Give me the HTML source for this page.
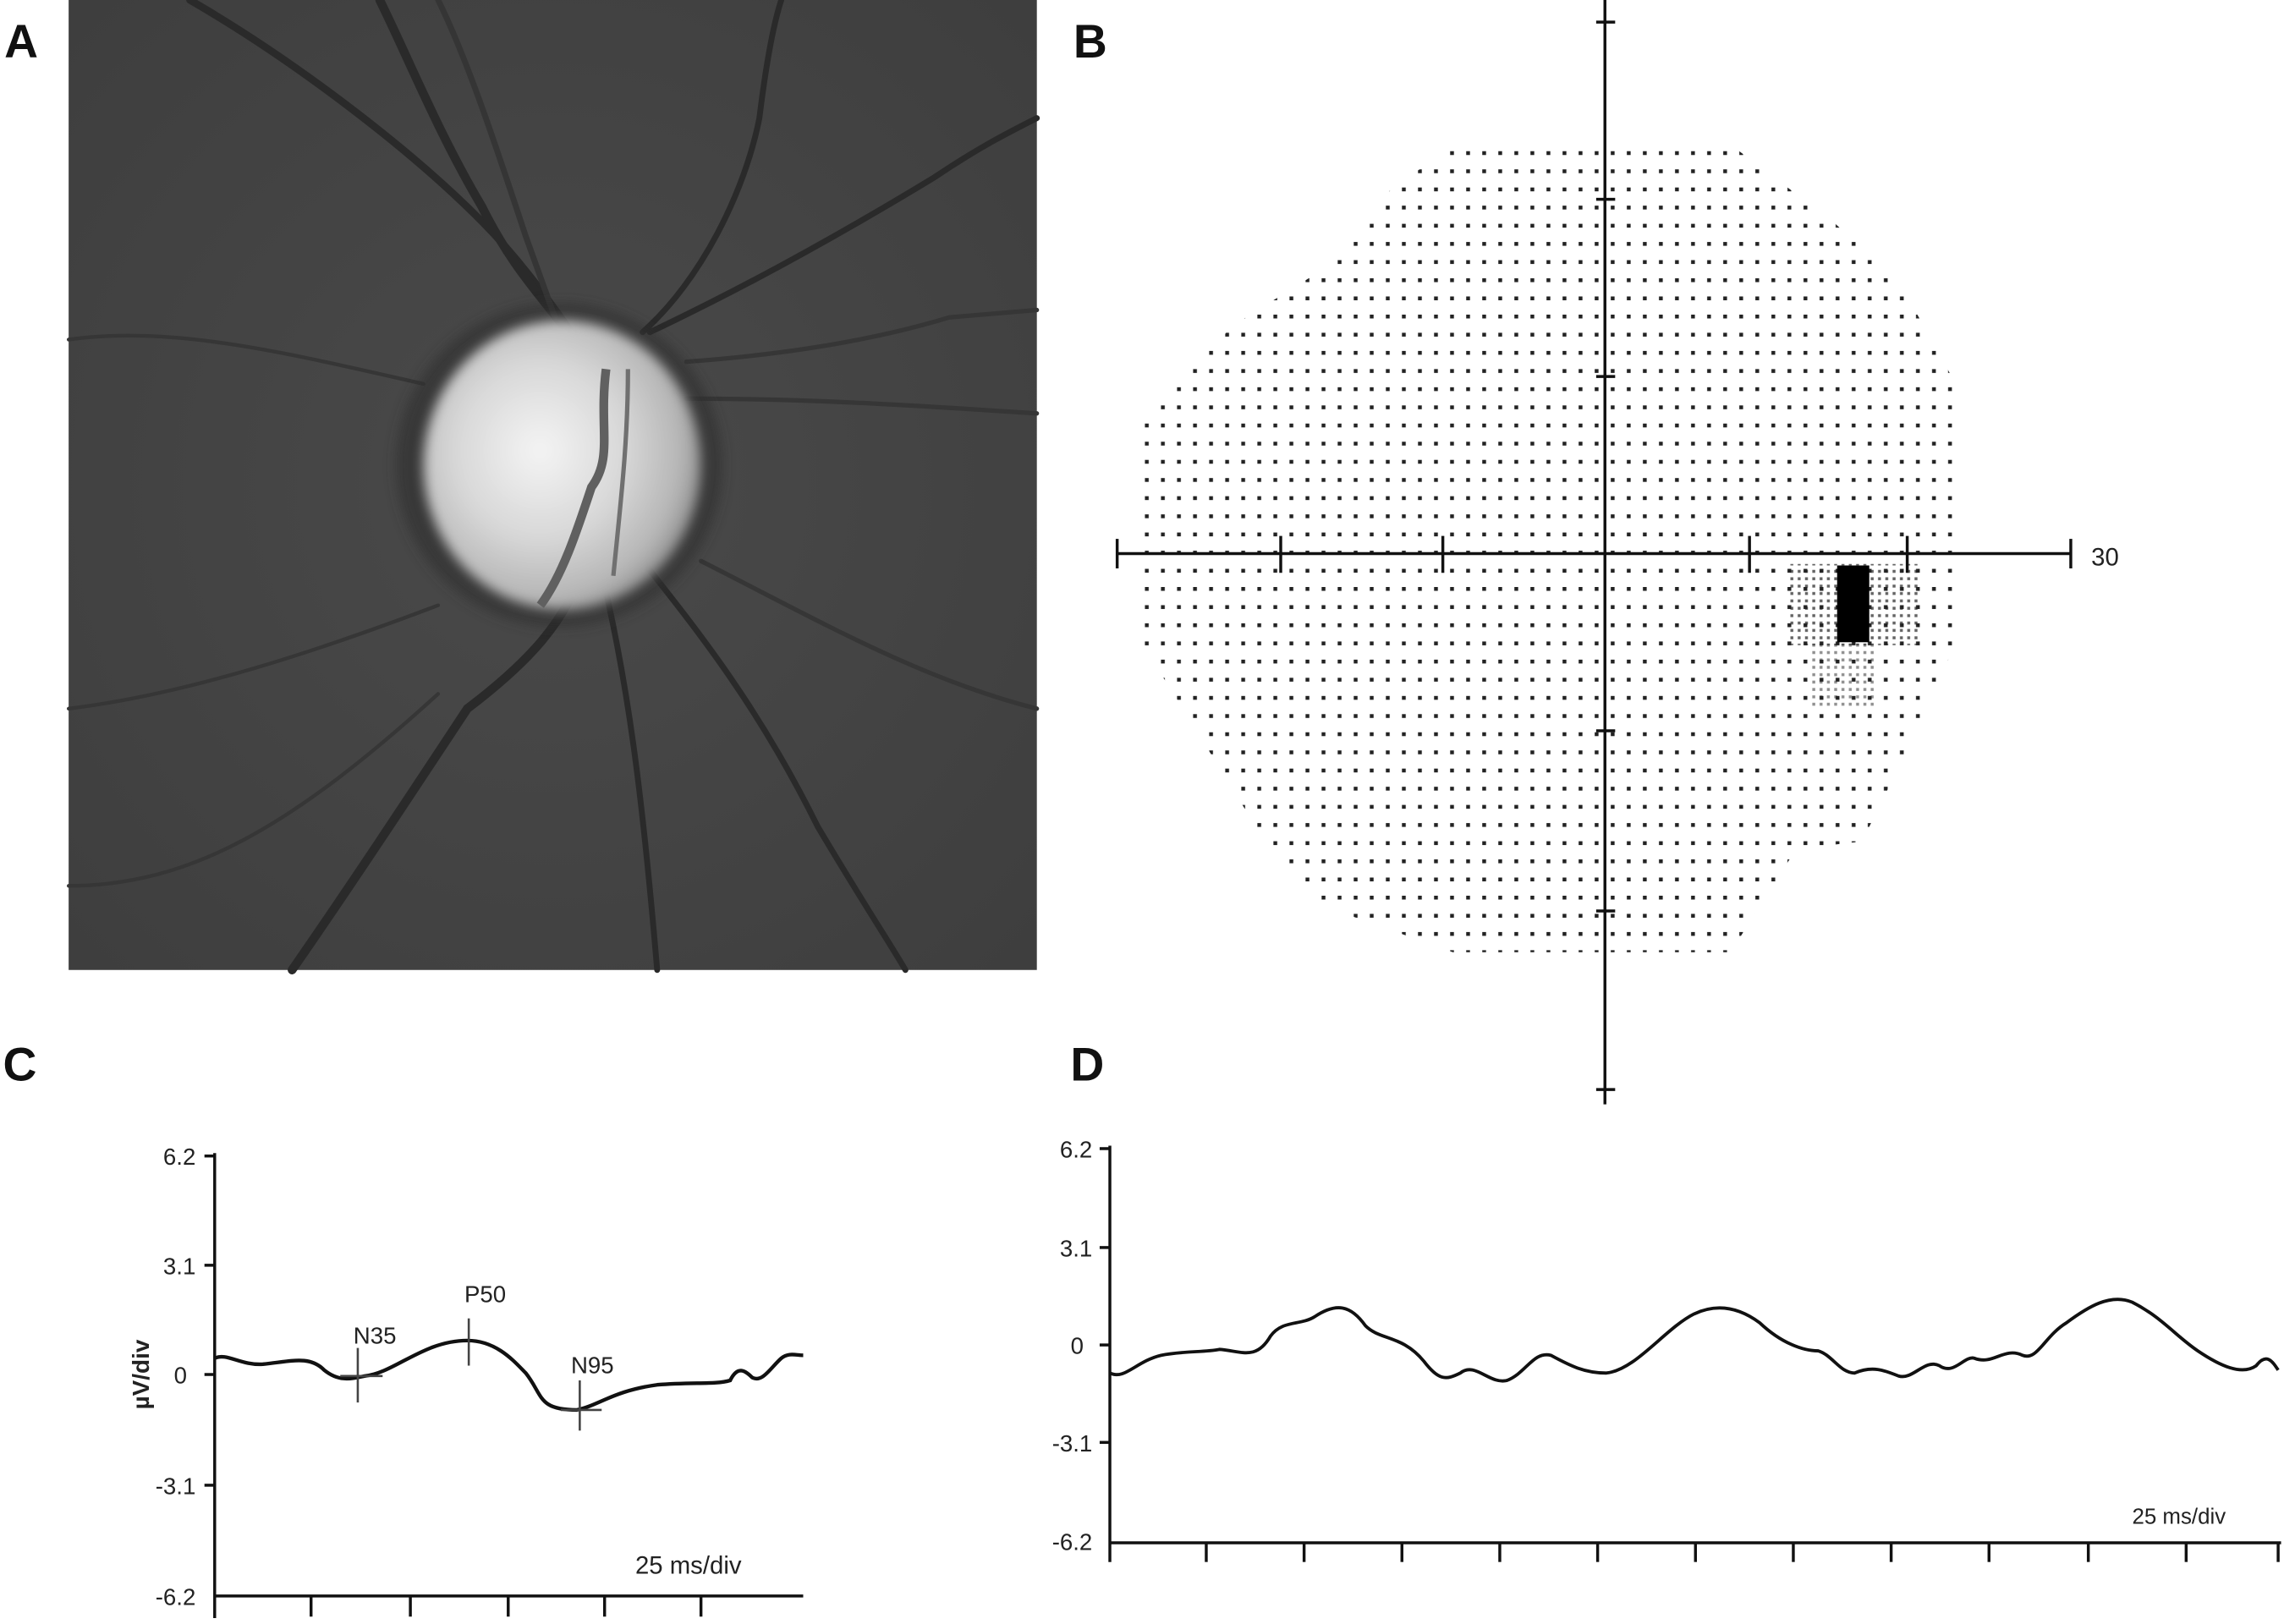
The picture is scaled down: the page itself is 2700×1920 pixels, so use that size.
<!DOCTYPE html>
<html><head><meta charset="utf-8"><style>
html,body{margin:0;padding:0;background:#fff;}
svg{display:block;}
text{font-family:"Liberation Sans",sans-serif;}
</style></head><body>
<svg width="2700" height="1920" viewBox="0 0 1564 1100" preserveAspectRatio="none" xmlns="http://www.w3.org/2000/svg">
<defs>
<radialGradient id="disc" cx="0.42" cy="0.45" r="0.6">
<stop offset="0" stop-color="#f4f4f4"/><stop offset="0.5" stop-color="#d8d8d8"/><stop offset="0.85" stop-color="#b5b5b5"/><stop offset="1" stop-color="#8a8a8a"/>
</radialGradient>
<radialGradient id="bg" cx="0.5" cy="0.5" r="0.7">
<stop offset="0" stop-color="#4a4a4a"/><stop offset="1" stop-color="#3e3e3e"/>
</radialGradient>
<filter id="blur"><feGaussianBlur stdDeviation="4"/></filter>
<pattern id="dots" x="0" y="0" width="11" height="12.3" patternUnits="userSpaceOnUse">
<rect x="3" y="4" width="2.6" height="2.6" fill="#222"/>
</pattern>
<pattern id="dense" x="0" y="0" width="5" height="5" patternUnits="userSpaceOnUse">
<rect x="1" y="1" width="2" height="2" fill="#222"/>
</pattern>
<clipPath id="field">
<polygon points="1000,98 1185,98 1255,150 1300,190 1342,265 1342,430 1300,520 1275,570 1230,575 1185,645 995,645 910,615 860,560 810,480 778,430 778,290 800,265 845,220 910,180 955,125 1000,98"/>
</clipPath>
</defs>

<!-- Panel A -->
<rect x="47" y="0" width="663" height="657" fill="url(#bg)"/>
<g stroke="#2a2a2a" fill="none" stroke-linecap="round">
<path d="M130,0 C200,40 280,100 330,150 C360,180 380,210 395,230" stroke-width="5"/>
<path d="M260,0 C280,40 300,90 330,140 C350,180 370,200 385,220" stroke-width="6"/>
<path d="M300,0 C320,40 340,100 360,160 L380,215" stroke-width="4" stroke="#353535"/>
<path d="M440,225 C480,190 510,130 520,80 C525,40 530,15 535,0" stroke-width="4"/>
<path d="M445,225 C520,190 590,150 640,120 C670,100 690,90 710,80" stroke-width="4"/>
<path d="M470,245 C540,240 600,230 650,215 L710,210" stroke-width="3" stroke="#363636"/>
<path d="M470,270 C560,270 630,275 710,280" stroke-width="3" stroke="#363636"/>
<path d="M400,380 C390,420 360,450 320,480 C280,540 240,600 200,657" stroke-width="6"/>
<path d="M410,380 C430,460 440,540 450,657" stroke-width="4"/>
<path d="M440,380 C480,430 520,480 560,560 C590,610 610,640 620,657" stroke-width="4"/>
<path d="M480,380 C560,420 630,460 710,480" stroke-width="3" stroke="#363636"/>
<path d="M47,230 C120,220 200,240 290,260" stroke-width="2.5" stroke="#363636"/>
<path d="M47,480 C130,470 220,440 300,410" stroke-width="2.5" stroke="#363636"/>
<path d="M47,600 C130,600 200,560 300,470" stroke-width="2.5" stroke="#363636"/>
</g>
<ellipse cx="383" cy="315" rx="112" ry="110" fill="#2e2e2e" filter="url(#blur)" opacity="0.6"/>
<ellipse cx="385" cy="315" rx="95" ry="98" fill="url(#disc)" filter="url(#blur)"/>
<path d="M415,250 C410,290 420,310 405,330 C395,360 385,390 370,410" stroke="#606060" stroke-width="6" fill="none"/>
<path d="M430,250 C430,300 425,340 420,390" stroke="#707070" stroke-width="3" fill="none"/>

<!-- Panel B -->
<rect x="760" y="90" width="600" height="570" fill="url(#dots)" clip-path="url(#field)"/>
<rect x="1225" y="382" width="90" height="55" fill="url(#dense)" opacity="0.7"/>
<rect x="1240" y="435" width="45" height="45" fill="url(#dense)" opacity="0.5"/>
<rect x="1258" y="383" width="22" height="52" fill="#000"/>
<g stroke="#111" stroke-width="2">
<line x1="1099" y1="0" x2="1099" y2="748"/>
<line x1="765" y1="375" x2="1418" y2="375"/>
<line x1="765" y1="365" x2="765" y2="385"/><line x1="877" y1="363" x2="877" y2="388"/>
<line x1="988" y1="363" x2="988" y2="388"/><line x1="1198" y1="363" x2="1198" y2="388"/>
<line x1="1306" y1="363" x2="1306" y2="388"/><line x1="1418" y1="365" x2="1418" y2="385"/>
<line x1="1093" y1="15" x2="1106" y2="15"/><line x1="1093" y1="135" x2="1106" y2="135"/>
<line x1="1093" y1="255" x2="1106" y2="255"/><line x1="1093" y1="495" x2="1106" y2="495"/>
<line x1="1093" y1="617" x2="1106" y2="617"/><line x1="1093" y1="738" x2="1106" y2="738"/>
</g>
<text x="1432" y="383" font-size="17" fill="#222">30</text>

<!-- Labels -->
<g font-weight="bold" font-size="32" fill="#111">
<text x="3" y="39">A</text><text x="735" y="39">B</text>
<text x="2" y="732">C</text><text x="733" y="732">D</text>
</g>

<!-- Panel C -->
<g stroke="#111" stroke-width="2" fill="none">
<line x1="147" y1="781" x2="147" y2="1096"/>
<line x1="147" y1="1081" x2="550" y2="1081"/>
<line x1="140" y1="783" x2="147" y2="783"/><line x1="140" y1="857" x2="147" y2="857"/>
<line x1="140" y1="931" x2="147" y2="931"/><line x1="140" y1="1006" x2="147" y2="1006"/>
<line x1="213" y1="1081" x2="213" y2="1095"/><line x1="281" y1="1081" x2="281" y2="1095"/>
<line x1="348" y1="1081" x2="348" y2="1095"/><line x1="414" y1="1081" x2="414" y2="1095"/>
<line x1="480" y1="1081" x2="480" y2="1095"/>
<path stroke-width="2.5" d="M147,920 C155,916 165,925 180,924 C200,922 212,918 222,928 C232,936 240,934 250,932 C270,930 290,908 320,908 C340,908 352,922 360,930 C372,945 368,955 395,955 C410,952 420,942 450,938 C475,936 490,938 500,935 C505,925 510,928 515,933 C522,937 528,926 535,920 C540,916 545,918 550,918"/>
</g>
<g stroke="#444" stroke-width="1.5">
<line x1="245" y1="913" x2="245" y2="950"/><line x1="233" y1="932" x2="262" y2="932"/>
<line x1="321" y1="893" x2="321" y2="925"/>
<line x1="397" y1="935" x2="397" y2="969"/><line x1="384" y1="955" x2="412" y2="955"/>
</g>
<g font-size="16" fill="#222">
<text x="242" y="910">N35</text><text x="318" y="882">P50</text><text x="391" y="930">N95</text>
<text x="134" y="789" text-anchor="end">6.2</text>
<text x="134" y="863" text-anchor="end">3.1</text>
<text x="128" y="937" text-anchor="end">0</text>
<text x="134" y="1012" text-anchor="end">-3.1</text>
<text x="134" y="1087" text-anchor="end">-6.2</text>
<text x="435" y="1066" font-size="17">25 ms/div</text>
<text transform="translate(102,931) rotate(-90)" text-anchor="middle" font-weight="bold" font-size="16">µV/div</text>
</g>

<!-- Panel D -->
<g stroke="#111" stroke-width="2" fill="none">
<line x1="760" y1="776" x2="760" y2="1058"/>
<line x1="760" y1="1045" x2="1562" y2="1045"/>
<line x1="753" y1="778" x2="760" y2="778"/><line x1="753" y1="845" x2="760" y2="845"/>
<line x1="753" y1="911" x2="760" y2="911"/><line x1="753" y1="977" x2="760" y2="977"/>
<g>
<line x1="826" y1="1045" x2="826" y2="1058"/><line x1="893" y1="1045" x2="893" y2="1058"/>
<line x1="960" y1="1045" x2="960" y2="1058"/><line x1="1027" y1="1045" x2="1027" y2="1058"/>
<line x1="1094" y1="1045" x2="1094" y2="1058"/><line x1="1161" y1="1045" x2="1161" y2="1058"/>
<line x1="1228" y1="1045" x2="1228" y2="1058"/><line x1="1295" y1="1045" x2="1295" y2="1058"/>
<line x1="1362" y1="1045" x2="1362" y2="1058"/><line x1="1430" y1="1045" x2="1430" y2="1058"/>
<line x1="1497" y1="1045" x2="1497" y2="1058"/><line x1="1560" y1="1045" x2="1560" y2="1058"/>
</g>
<path stroke-width="2.2" d="M760,930 C770,935 778,922 795,918 C810,915 825,916 835,914 C850,915 860,922 870,905 C878,894 890,898 900,892 C915,882 925,884 935,898 C945,908 960,904 975,922 C985,935 990,935 1000,930 C1010,922 1020,938 1032,935 C1045,930 1050,915 1062,918 C1075,925 1085,930 1100,930 C1120,928 1140,900 1160,890 C1175,883 1190,885 1205,896 C1220,910 1235,915 1245,915 C1255,918 1260,930 1270,930 C1282,925 1290,928 1300,932 C1310,935 1318,920 1328,925 C1338,932 1345,918 1352,920 C1365,925 1372,912 1385,918 C1395,922 1400,905 1415,896 C1430,885 1445,876 1460,882 C1480,892 1490,905 1505,915 C1520,925 1535,932 1545,925 C1552,916 1556,922 1560,928"/>
</g>
<g font-size="16" fill="#222">
<text x="748" y="784" text-anchor="end">6.2</text>
<text x="748" y="851" text-anchor="end">3.1</text>
<text x="742" y="917" text-anchor="end">0</text>
<text x="748" y="983" text-anchor="end">-3.1</text>
<text x="748" y="1050" text-anchor="end">-6.2</text>
<text x="1460" y="1032" font-size="15">25 ms/div</text>
</g>
</svg>
</body></html>
